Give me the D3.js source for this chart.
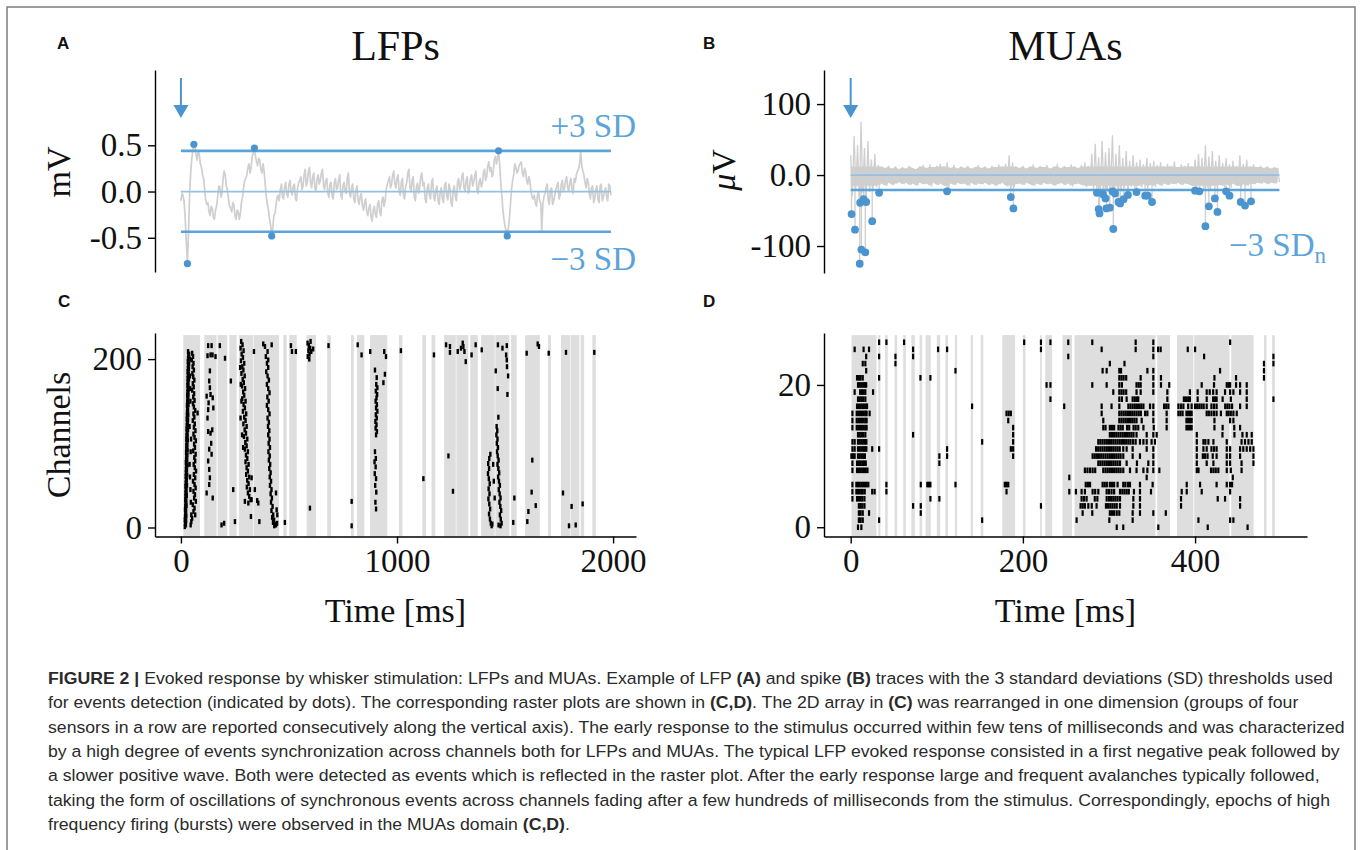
<!DOCTYPE html>
<html><head><meta charset="utf-8">
<script src="https://cdn.jsdelivr.net/npm/d3@7"></script>
<style>body{margin:0;background:#fff}svg{display:block}</style>
</head><body>
<svg id="fig" width="1360" height="850"></svg>
<script>
// ---------------- DATA ----------------
// Panel A: LFP trace (mV), sampled every 10 ms from t=0, plus the samples half-way between them
const lfpStep = 10;
const lfpValues = [
-0.10,-0.04,-0.30,-0.78,-0.05,0.35,0.51,0.40,0.44,0.30,
0.18,0.02,-0.14,-0.22,-0.16,-0.28,-0.20,-0.06,0.05,-0.02,
0.22,0.06,-0.08,-0.18,-0.12,-0.26,-0.20,-0.30,-0.12,0.04,
0.14,0.26,0.20,0.38,0.47,0.32,0.36,0.24,0.30,0.08,
-0.14,-0.30,-0.48,-0.26,-0.15,-0.04,0.02,-0.06,0.05,-0.03,
0.08,0.00,0.06,-0.08,0.04,0.12,0.02,0.18,0.06,0.22,
0.10,0.16,0.04,0.14,0.08,0.20,0.06,0.12,-0.02,0.08,
-0.05,0.10,0.02,0.13,-0.04,0.06,0.00,0.15,-0.02,0.05,
-0.08,0.02,-0.10,-0.05,-0.16,-0.12,-0.22,-0.18,-0.28,-0.20,
-0.25,-0.14,-0.22,-0.10,-0.16,0.02,0.12,0.04,0.18,0.08,
0.14,0.00,0.10,-0.04,0.06,0.20,0.04,0.12,-0.06,0.05,
-0.02,0.16,0.06,-0.08,0.04,-0.04,0.10,-0.06,0.02,-0.10,
0.00,-0.08,0.06,-0.05,0.08,-0.12,0.02,-0.06,0.10,0.02,
0.16,0.04,0.12,-0.02,0.14,0.06,0.18,0.02,0.10,0.05,
0.20,0.12,0.28,0.22,0.16,0.34,0.30,0.44,0.10,-0.20,
-0.38,-0.48,-0.30,0.02,0.18,0.26,0.22,0.30,0.20,0.25,
0.12,0.16,0.00,-0.08,-0.12,-0.04,-0.10,-0.42,-0.06,0.04,
-0.10,0.02,-0.14,-0.04,0.06,-0.08,0.08,0.00,0.12,0.04,
0.10,0.02,0.14,0.18,0.24,0.43,0.22,0.10,0.14,-0.02,
0.04,-0.12,0.02,-0.08,0.06,-0.10,0.00,-0.06,0.08,-0.04
];
const lfpMidValues = [
-0.02,-0.12,-0.55,-0.45,0.20,0.44,0.47,0.34,0.40,0.26,
0.14,-0.10,-0.12,-0.26,-0.18,-0.30,-0.16,0.06,-0.06,0.14,
0.18,0.02,-0.16,-0.22,-0.14,-0.30,-0.22,-0.24,-0.06,0.12,
0.18,0.30,0.26,0.42,0.38,0.28,0.34,0.20,0.22,-0.06,
-0.20,-0.36,-0.40,-0.24,-0.06,-0.10,0.08,-0.08,0.10,-0.06,
0.12,-0.04,0.08,-0.10,0.10,0.16,0.06,0.24,0.10,0.26,
0.04,0.20,0.00,0.18,0.12,0.24,0.02,0.14,-0.06,0.10,
-0.08,0.14,0.04,0.18,-0.08,0.10,-0.02,0.20,-0.06,0.08,
-0.12,0.06,-0.14,-0.02,-0.20,-0.08,-0.26,-0.14,-0.32,-0.16,
-0.28,-0.10,-0.26,-0.06,-0.10,0.08,0.16,0.08,0.22,0.04,
0.18,-0.04,0.14,-0.08,0.10,0.24,0.00,0.16,-0.10,0.09,
0.04,0.20,0.10,-0.12,0.08,-0.08,0.14,-0.10,0.06,-0.14,
0.04,-0.12,0.10,-0.09,0.04,-0.16,0.06,-0.10,0.14,0.06,
0.20,0.00,0.16,0.02,0.18,0.10,0.22,-0.02,0.14,0.09,
0.24,0.16,0.32,0.26,0.20,0.38,0.36,0.30,-0.04,-0.30,
-0.42,-0.40,-0.14,0.12,0.30,0.20,0.28,0.32,0.16,0.22,
0.08,0.12,-0.06,-0.04,-0.16,0.00,-0.12,-0.14,-0.02,0.08,
-0.14,0.04,-0.10,0.02,0.10,-0.04,0.12,0.04,0.16,0.00,
0.14,-0.02,0.10,0.22,0.30,0.28,0.18,0.04,0.10,-0.08,
0.06,-0.08,0.06,-0.12,0.08,-0.06,0.04,-0.10,0.06
];
const lfpThresholds = [0.44, -0.435];
const lfpEvents = [[30,-0.78],[60,0.51],[340,0.47],[420,-0.48],[1470,0.44],[1510,-0.48]];
const lfpTicks = [-0.5, 0, 0.5];
const lfpTickLabels = ["-0.5", "0.0", "0.5"];

// Panel B: MUA trace envelope (µV) in 4 ms bins from t=0
const muaBin = 4;
const muaUpper = [
28,55,42,75,38,48,22,30,14,12,10,13,9,12,8,11,9,13,10,8,
12,14,10,15,11,13,16,12,18,10,14,9,12,10,13,9,11,14,10,12,
9,13,11,15,12,16,28,18,12,10,13,9,12,15,10,13,11,14,9,12,
16,10,13,11,15,12,10,14,18,13,30,44,25,48,32,38,56,30,42,24,
34,20,28,18,22,15,24,17,20,14,18,12,16,13,19,11,15,13,17,12,
22,30,24,42,26,34,20,28,17,24,15,20,13,28,16,22,12,15,11,13,
10,12,9,11,10
];
const muaLower = [
-30,-22,-45,-25,-40,-24,-20,-17,-14,-12,-15,-11,-14,-12,-10,-13,-11,-14,-12,-15,
-11,-13,-12,-16,-11,-14,-12,-15,-18,-12,-14,-11,-13,-12,-15,-11,-14,-12,-13,-11,
-14,-12,-15,-13,-11,-16,-20,-17,-13,-12,-14,-11,-13,-15,-12,-14,-11,-13,-12,-15,
-13,-11,-14,-12,-16,-13,-12,-14,-17,-15,-22,-18,-25,-20,-24,-19,-26,-21,-23,-18,
-20,-16,-19,-15,-17,-13,-16,-14,-17,-12,-15,-12,-14,-12,-13,-11,-14,-12,-13,-15,
-20,-16,-22,-18,-21,-15,-19,-14,-17,-13,-18,-12,-15,-17,-13,-15,-12,-13,-11,-12,
-10,-13,-11,-12,-10
];
const muaNoiseBand = [-15, 12];
const muaThreshold = -21;
const muaEvents = [[1,-55],[5,-77],[10.5,-125],[12.4,-105],[17,-109],[11,-39],[15,-34],[18,-38],[25,-65],[33,-25],
[112,-23],[186,-31],[189,-47],[286,-25],[288,-48],[289,-54],[293,-27],[296,-33],[297,-47],[301,-46],
[304,-23],[305,-76],[307,-26],[311,-38],[313,-40],[317,-34],[322,-28],[332,-24],[342,-29],[345,-29],
[350,-38],[400,-22],[405,-23],[412,-72],[416,-44],[423,-33],[426,-52],[436,-23],[440,-29],[453,-38],
[458,-43],[465,-37]];
const muaTicks = [-100, 0, 100];
const muaTickLabels = ["-100", "0.0", "100"];

// Panel C: LFP raster, avalanche time bins (ms) and events [t ms, channel]
const lfpBands = [[11,88],[108,165],[170,214],[224,258],[268,333],[336,454],[474,489],[501,536],[582,625],[677,694],
[787,800],[815,849],[875,955],[1009,1025],[1117,1134],[1160,1177],[1218,1272],[1275,1330],[1339,1374],[1389,1452],
[1455,1520],[1528,1554],[1593,1661],[1699,1713],[1759,1800],[1803,1844],[1850,1866],[1904,1920]];
const lfpRaster = [
[18,1],[19,5],[18,9],[19,13],[20,17],[19,21],[20,25],[21,29],[20,33],[21,37],[21,41],[22,45],[21,49],[22,53],[23,57],[22,61],[23,65],[23,69],[24,73],[23,77],[24,81],[25,85],[24,89],[25,93],[25,97],[26,101],[25,105],[26,109],[27,113],[26,117],[27,121],[28,125],[27,129],[28,133],[28,137],[29,141],[28,145],[29,149],[30,153],[29,157],[30,161],[31,165],[30,169],[31,173],[31,177],[32,181],[31,185],[32,189],[33,193],[32,197],[33,201],[34,205],[33,209],
[23,3],[24,8],[25,14],[24,20],[26,26],[25,32],[27,38],[26,44],[28,50],[27,56],[29,62],[28,68],[30,74],[29,80],[30,86],[31,92],[30,98],[32,104],[31,110],[33,116],[32,122],[33,128],[34,134],[33,140],[35,146],[34,152],[35,158],[36,164],[35,170],[37,176],[36,182],[37,188],[38,194],[37,200],[38,206],
[52,207],[56,203],[50,199],[58,195],[54,191],[60,187],[53,183],[57,179],[62,175],[55,171],[59,167],[52,163],[61,159],[57,155],[63,151],[56,147],[60,143],[66,139],[58,135],[77,136],[62,131],[55,127],[64,123],[60,119],[67,115],[58,111],[63,107],[69,103],[61,99],[65,95],[57,91],[68,87],[62,83],[66,79],[59,75],[64,71],[70,67],[60,63],[66,59],[56,55],[63,51],[68,47],[58,43],[65,39],[61,35],[69,31],[55,27],[63,23],[58,19],[66,15],[52,11],[48,7],[45,3],
[42,180],[44,150],[40,120],[45,90],[42,60],[46,30],[41,200],[43,165],[47,105],[40,75],[44,45],[48,15],
[126,216],[142,216],[123,204],[137,205],[146,205],[160,203],[134,186],[131,174],[134,166],[119,156],[137,158],[147,154],[128,148],[126,140],[150,142],[123,130],[145,116],[126,114],[137,112],[140,100],[131,93],[142,87],[126,79],[131,69],[134,59],[131,51],[119,41],[147,35],
[180,216],[204,201],[231,174],[242,45],[188,3],[200,5],[250,7],
[279,221],[285,217],[276,213],[290,210],[281,206],[287,202],[278,198],[293,195],[284,191],[289,187],[280,183],[295,180],[286,176],[291,172],[283,168],[297,165],[288,161],[293,157],[284,153],[299,150],[290,146],[296,142],[287,138],[302,135],[293,131],[299,127],[289,123],[304,120],[295,116],[301,112],[292,108],[307,105],[298,101],[304,97],[296,93],[310,90],[301,86],[307,82],[299,78],[313,75],[304,71],[310,67],[302,63],[316,60],[307,56],[313,52],[305,48],[319,45],[310,41],[316,37],[322,33],[312,29],
[274,190],[277,170],[280,150],[276,130],[283,110],[288,95],
[296,31],[327,33],[353,32],[363,7],[324,13],[338,209],[358,29],[342,45],[327,59],
[381,218],[389,215],[401,209],[420,217],[393,203],[404,199],
[398,195],[404,190],[395,185],[401,180],[407,175],[398,170],[404,165],[410,160],[400,155],[406,150],[398,145],[404,140],[410,135],[401,130],[407,125],[403,120],[409,115],[404,110],[410,105],[406,100],[412,95],[405,90],[411,85],[407,80],[413,75],[409,70],[415,65],[411,60],[417,55],[412,50],[419,45],[415,40],[421,35],[417,30],[424,25],[419,20],[427,15],[422,12],[431,9],[426,6],[436,4],[440,3],[445,5],[432,2],
[440,41],[443,21],[446,15],[481,6],
[586,219],[592,216],[598,213],[590,210],[595,206],[603,209],[587,203],[612,212],[600,221],[594,200],
[509,216],[514,209],[532,209],[683,216],[818,217],[836,205],[876,209],[941,209],[949,203],[597,23],[790,31],[790,2],[1018,210],
[898,187],[906,178],[944,182],[937,172],[904,170],[909,166],[902,162],[908,158],[905,154],[901,150],[907,146],[903,142],[909,138],[902,134],[906,130],[900,126],[905,122],[901,118],[907,114],[903,110],[898,90],[902,82],[896,78],[901,72],[897,64],[903,58],[899,50],[904,42],[900,30],[903,22],
[1122,58],[1171,205],[1238,85],[1259,43],
[1227,217],[1245,215],[1245,208],[1281,209],[1296,213],[1304,219],[1307,215],[1312,209],[1318,197],[1345,205],[1364,217],[1392,211],
[1467,217],[1488,213],[1508,216],[1505,205],[1508,199],[1509,191],[1457,186],[1514,180],[1466,165],[1511,158],[1469,131],
[1432,87],[1427,82],[1422,76],[1426,70],[1421,64],[1425,58],[1429,52],[1424,46],[1428,40],[1423,34],[1427,28],[1431,22],[1426,16],[1430,10],[1434,5],[1438,2],[1441,4],
[1461,120],[1464,115],[1460,110],[1465,105],[1462,100],[1467,95],[1463,90],[1466,85],[1470,80],[1465,75],[1469,70],[1473,65],[1468,60],[1472,55],[1476,50],[1471,45],[1475,40],[1479,35],[1474,30],[1478,25],[1482,20],[1476,15],[1480,10],[1484,5],[1479,2],[1470,3],
[1448,55],[1452,35],[1445,75],
[1538,6],[1543,35],[1603,7],[1608,19],[1626,80],[1623,42],[1642,26],[1600,207],[1651,218],[1657,215],[1702,207],[1768,41],[1782,208],[1808,25],[1796,2],[1827,3],[1859,28],[1913,208]
];
const lfpRasterXTicks = [0, 1000, 2000];
const lfpRasterYTicks = [0, 200];

// Panel D: MUA raster, time bins (ms) and spike times per channel
const muaBands = [[1,30],[32,34.5],[40,43],[51,54],[61,64],[70.5,74.5],[80,83],[87,93],[100,104],[110,113],
[121,123.6],[139.5,142],[151,154],[176,191],[200,203],[220,222],[226,234],[246,257],[260,354],[356,371],
[379,398],[399,440],[442,468],[480,483],[489.5,492.6]];
const muaRaster = [
[26,[33,41.5,62,201.5,221,232,252.7,280.6,331,351.5,440.7]],
[25,[4.6,15,21.3,72.5,101.5,112,221,291.5,331,351.5,357,360,391.5,400]],
[24,[18,33,52,72.5,252.7,351.5,410.5,491]],
[23,[14,17,52,301,318,480,491]],
[22,[18,121.7,292.6,297.3,312,314,344.6,351.5,429,480]],
[21,[7.4,9.5,11.5,14,33,81,92.6,312,314.5,317,320,336.8,351.5,360.4,422.5,447.6,480]],
[20,[8.5,10.5,12.5,14.5,16.5,18,227.5,232,280.6,297.3,312,315,332,334.5,336.8,351.5,360.4,370,407.7,422,436.8,439,440.7,447.6,452.3,460]],
[19,[4.6,11,13,15,17,26,305,312,314.5,317,320,332,336.8,351.5,367.8,394,403,413.5,417,421,425,434.8,440.7,444.5,452.3,460]],
[18,[8.5,10.5,12.5,14.5,17,232,312,315,320.5,327.5,330,332.5,334,367.8,387,389.5,392,394,403,413.5,421,423,425,432,441.5,460,491]],
[17,[7.4,9.5,11.5,13.5,15.5,17.5,19,141,248,291.5,303,312,322.5,325,327.5,330,332.5,335,337.5,340,347.7,351.5,364,366.5,369,380.6,383.5,386.4,392,396,400,402.5,405,407.5,410,413.5,419,422,425,435,437.5,440,443,452.3,460]],
[16,[2,7,9,11,13,15,17,18.5,22,181,183.5,186,291.5,312,314.5,317,319.5,322,324.5,327,329.5,332,334.5,337,342,344.6,351.5,367,380.6,383,385.5,390,392,394,396,413.5,416,419,422,425,430,436.8,439,441.5,444.5,448.4]],
[15,[2,7,9,11,13,15,17,18.5,183,293.4,312,314.5,317,319.5,322,324.5,327,329.5,332,338,351.5,367,390,392,394,396,422.5,440.7,444.5]],
[14,[2,7,9,11,13,15,17,18.5,188.7,293.4,296,301,303.5,306,311,313.5,316,321,323.5,328.5,331,334,340,352,367,390,392,394,396,422.5,432,445.5,452.3]],
[13,[8.5,10.5,12.5,14.5,17,72.5,188.7,301,303.5,306,308.5,311,313.5,316,318.5,321,323.5,326,328.5,332,343.8,351.5,355.4,402,431.8,445.7,455,460,465.8]],
[12,[2,4.6,8.5,10.5,12.5,14.5,16.5,18.2,152.7,188.7,287.6,290,292.5,295,297.5,300,302.5,305,307.5,310,312.5,315,317.5,320,322.5,325,328,331,336,340,343.8,349.5,353.4,402,409.7,412,415.5,421.3,436.8,454,458,462,465.8]],
[11,[2,4.6,8.5,10.5,12.5,14.5,16.5,18.2,25,33,112,186,188.7,285,287.5,290,292.5,295,297.5,300,302.5,305,307.5,310,312.5,316.6,320.5,327.5,343.8,351.5,402,409.7,413.5,419,422,425,436.8,440.7,452.3,456,460,464,467.8]],
[10,[0.8,2.7,4.6,8.5,10.5,12.5,14.5,16.5,103,112,188.7,281,283.5,286,288.5,291,293.5,296,298.5,301,303.5,306,308.5,311,313.5,316.6,327.5,336,351.5,402,409,411.5,414.5,420.5,425,436.8,440.7,452.3,467.8]],
[9,[2,7.4,9.5,11.5,13.5,15.5,17.5,103,287.6,290,292.5,295,297.5,300,302.5,305,307.5,310,312.8,320.5,332.5,345.7,351.5,402,413.5,421.3,436.8,440.7,454,467.8]],
[8,[2,7.4,9.5,11.5,13.5,15.5,17.5,19.5,272,275,278,281,284,293.4,296,298.5,301,303.5,306,308.5,311,313.5,316.6,324.4,332,340,344.6,351.5,358.5,402,404,418.5,421.3,424,427,436.8,441.5,454]],
[7,[253.9,343.8,443.8]],
[6,[2,6.6,8.5,10.5,12.5,14.5,16.5,18.5,20.5,41.5,81.4,89,91,92.6,121.7,179,181,183,273,275.5,278,292.6,295,297.5,301,303.5,306,310,316.6,319,322,324.4,336,350.7,390.3,405.8,425,436.8,440.7,443]],
[5,[2,6.6,8.5,10.5,12.5,14,16.3,25,27.8,41.5,181,253.9,261.6,268.2,272,281,284,287.6,297.3,300,303,306,312.8,315.5,318,320.5,323,329,336,348.8,384.5,390.3,407.7,440.7]],
[4,[2,7.4,9.5,11.5,13.5,16,92.6,103,268.2,271,274,283.5,286.5,297.3,300,302.5,305,307.5,310,312.8,328.3,336,383.7,426.3,434.8,452.3]],
[3,[9.5,11.5,13.5,16,72.5,81.4,221,267,269.5,272,276,280,285.6,296.5,299,301.5,304,306.5,309,312.8,328.3,336,383.7,452.3]],
[2,[9.5,11.5,14,21.3,81.4,269.4,280.6,301,303.5,306,309,312,327.5,336,351.5,366]],
[1,[9.5,11.5,14,33,152.7,262.4,300.4,327.5,403.9,440.7,444.5]],
[0,[8.5,12.4,309,316.6,357.3,414.7,461]]
];
const muaRasterXTicks = [0, 200, 400];
const muaRasterYTicks = [0, 20];

const captionLines = [
"**FIGURE 2 |** Evoked response by whisker stimulation: LFPs and MUAs. Example of LFP **(A)** and spike **(B)** traces with the 3 standard deviations (SD) thresholds used",
"for events detection (indicated by dots). The corresponding raster plots are shown in **(C,D)**. The 2D array in **(C)** was rearranged in one dimension (groups of four",
"sensors in a row are reported consecutively along the vertical axis). The early response to the stimulus occurred within few tens of milliseconds and was characterized",
"by a high degree of events synchronization across channels both for LFPs and MUAs. The typical LFP evoked response consisted in a first negative peak followed by",
"a slower positive wave. Both were detected as events which is reflected in the raster plot. After the early response large and frequent avalanches typically followed,",
"taking the form of oscillations of synchronous events across channels fading after a few hundreds of milliseconds from the stimulus. Correspondingly, epochs of high",
"frequency firing (bursts) were observed in the MUAs domain **(C,D)**."
];

// ---------------- DRAWING ----------------
const SERIF = "'Liberation Serif','DejaVu Serif',serif";
const SANS = "'Liberation Sans','Arial',sans-serif";
const BLUE = "#4a95d0";
const LINEBLUE = "#5aa4da";
const ZEROBLUE = "#93c2e4";
const GRAY = "#cfcfcf";
const BAND = "#dedede";

const svg = d3.select("#fig");
svg.append("rect").attr("x",7).attr("y",7).attr("width",1348).attr("height",870)
  .attr("fill","none").attr("stroke","#7d7d7d").attr("stroke-width",1.5);

function styleAxis(g){
  g.select(".domain").attr("stroke","#000").attr("stroke-width",1.4);
  g.selectAll(".tick line").attr("stroke","#000").attr("stroke-width",1.4);
  g.selectAll(".tick text").attr("font-family",SERIF).attr("font-size",33).attr("fill","#111");
}
function panelLetter(txt,x,y){
  svg.append("text").attr("x",x).attr("y",y).text(txt)
    .attr("font-family",SANS).attr("font-weight","bold").attr("font-size",17).attr("fill","#111");
}
function arrow(x){
  svg.append("line").attr("x1",x).attr("x2",x).attr("y1",78).attr("y2",107)
    .attr("stroke",BLUE).attr("stroke-width",2);
  svg.append("path").attr("d",`M${x-7.5},105 L${x+7.5},105 L${x},118 Z`).attr("fill",BLUE);
}

// scales
const xLeft = d3.scaleLinear().domain([-120,2106]).range([155,636]);
const xRight = d3.scaleLinear().domain([-31,530]).range([824,1307]);
const yA = d3.scaleLinear().domain([-0.87,1.314]).range([272,70]);
const yB = d3.scaleLinear().domain([-138,148]).range([273,70]);
const yC = d3.scaleLinear().domain([-10.7,231]).range([536.5,333]);
const yD = d3.scaleLinear().domain([-1.3,27.3]).range([536.5,333]);

// ---- Panel A ----
panelLetter("A",57,49);
svg.append("text").attr("x",(xLeft.range()[0]+xLeft.range()[1])/2).attr("y",60).attr("text-anchor","middle")
  .attr("font-family",SERIF).attr("font-size",42).attr("fill","#111").text("LFPs");
const lfpPts = [];
lfpValues.forEach((v,i)=>{
  lfpPts.push([i*lfpStep, v]);
  if(i < lfpMidValues.length) lfpPts.push([i*lfpStep + lfpStep/2, lfpMidValues[i]]);
});
const lfpEnd = (lfpValues.length-1)*lfpStep;
svg.append("path").datum(lfpPts).attr("fill","none").attr("stroke",GRAY).attr("stroke-width",1.7)
  .attr("stroke-linejoin","round").attr("d", d3.line().x(d=>xLeft(d[0])).y(d=>yA(d[1])));
svg.append("line").attr("x1",xLeft(0)).attr("x2",xLeft(lfpEnd)).attr("y1",yA(0)).attr("y2",yA(0))
  .attr("stroke",ZEROBLUE).attr("stroke-width",1.8);
lfpThresholds.forEach(v=>{
  svg.append("line").attr("x1",xLeft(0)).attr("x2",xLeft(lfpEnd)).attr("y1",yA(v)).attr("y2",yA(v))
    .attr("stroke",LINEBLUE).attr("stroke-width",2.6);
});
svg.selectAll(".lfpdot").data(lfpEvents).enter().append("circle")
  .attr("cx",d=>xLeft(d[0])).attr("cy",d=>yA(d[1])).attr("r",3.6).attr("fill",BLUE);
const axA = svg.append("g").attr("transform","translate(155,0)")
  .call(d3.axisLeft(yA).tickValues(lfpTicks).tickFormat((d,i)=>lfpTickLabels[i]).tickSize(7).tickSizeOuter(0).tickPadding(6));
styleAxis(axA);
svg.append("text").attr("transform","translate(70,172) rotate(-90)").attr("text-anchor","middle")
  .attr("font-family",SERIF).attr("font-size",34).attr("fill","#111").text("mV");
svg.append("text").attr("x",636).attr("y",137).attr("text-anchor","end")
  .attr("font-family",SERIF).attr("font-size",33).attr("fill",LINEBLUE).text("+3 SD");
svg.append("text").attr("x",636).attr("y",270).attr("text-anchor","end")
  .attr("font-family",SERIF).attr("font-size",33).attr("fill",LINEBLUE).text("\u22123 SD");
arrow(xLeft(0));

// ---- Panel B ----
panelLetter("B",703,49);
svg.append("text").attr("x",(xRight.range()[0]+xRight.range()[1])/2).attr("y",60).attr("text-anchor","middle")
  .attr("font-family",SERIF).attr("font-size",42).attr("fill","#111").text("MUAs");
const muaPts = [];
muaUpper.forEach((u,i)=>{ muaPts.push([i*muaBin, u]); muaPts.push([i*muaBin+muaBin/2, muaLower[i]]); });
const muaEnd = muaPts[muaPts.length-1][0];
// dense noise band
svg.append("path").datum(muaUpper.map((u,i)=>[i*muaBin, Math.min(u, muaNoiseBand[1]), Math.max(muaLower[i], muaNoiseBand[0])]))
  .attr("fill",GRAY).attr("stroke","none")
  .attr("d", d3.area().x(d=>xRight(d[0])).y1(d=>yB(d[1])).y0(d=>yB(d[2])));
svg.append("path").datum(muaPts).attr("fill","none").attr("stroke",GRAY).attr("stroke-width",1.3)
  .attr("d", d3.line().x(d=>xRight(d[0])).y(d=>yB(d[1])));
svg.selectAll(".stem").data(muaEvents).enter().append("line")
  .attr("x1",d=>xRight(d[0])).attr("x2",d=>xRight(d[0])).attr("y1",yB(0)).attr("y2",d=>yB(d[1]))
  .attr("stroke",GRAY).attr("stroke-width",1.4);
svg.append("line").attr("x1",xRight(0)).attr("x2",xRight(muaEnd)).attr("y1",yB(0)).attr("y2",yB(0))
  .attr("stroke",ZEROBLUE).attr("stroke-width",1.8);
svg.append("line").attr("x1",xRight(0)).attr("x2",xRight(muaEnd)).attr("y1",yB(muaThreshold)).attr("y2",yB(muaThreshold))
  .attr("stroke",LINEBLUE).attr("stroke-width",2.4);
svg.selectAll(".muadot").data(muaEvents).enter().append("circle")
  .attr("cx",d=>xRight(d[0])).attr("cy",d=>yB(d[1])).attr("r",3.9).attr("fill",BLUE);
const axB = svg.append("g").attr("transform","translate(824,0)")
  .call(d3.axisLeft(yB).tickValues(muaTicks).tickFormat((d,i)=>muaTickLabels[i]).tickSize(7).tickSizeOuter(0).tickPadding(6));
styleAxis(axB);
const muLab = svg.append("text").attr("transform","translate(735,170) rotate(-90)").attr("text-anchor","middle")
  .attr("font-family",SERIF).attr("font-size",34).attr("fill","#111");
muLab.append("tspan").attr("font-style","italic").text("\u03BC");
muLab.append("tspan").text("V");
const sdn = svg.append("text").attr("x",1326).attr("y",256).attr("text-anchor","end")
  .attr("font-family",SERIF).attr("font-size",33).attr("fill",LINEBLUE);
sdn.append("tspan").text("\u22123 SD");
sdn.append("tspan").attr("font-size",23).attr("dy",7).text("n");
arrow(xRight(0));

// ---- Panel C ----
panelLetter("C",58,307);
svg.selectAll(".bandC").data(lfpBands).enter().append("rect")
  .attr("x",d=>xLeft(d[0])).attr("width",d=>xLeft(d[1])-xLeft(d[0]))
  .attr("y",yC(228.5)).attr("height",yC(-10.7)-yC(228.5)).attr("fill",BAND);
svg.selectAll(".evC").data(lfpRaster).enter().append("rect")
  .attr("x",d=>xLeft(d[0])-1.2).attr("y",d=>yC(d[1])-2.5).attr("width",2.4).attr("height",5).attr("fill","#000");
const axCx = svg.append("g").attr("transform",`translate(0,${yC.range()[0]})`)
  .call(d3.axisBottom(xLeft).tickValues(lfpRasterXTicks).tickFormat(d3.format("d")).tickSize(7).tickSizeOuter(0).tickPadding(5));
styleAxis(axCx);
const axCy = svg.append("g").attr("transform","translate(155,0)")
  .call(d3.axisLeft(yC).tickValues(lfpRasterYTicks).tickFormat(d3.format("d")).tickSize(7).tickSizeOuter(0).tickPadding(6));
styleAxis(axCy);
svg.append("text").attr("transform","translate(70,435) rotate(-90)").attr("text-anchor","middle")
  .attr("font-family",SERIF).attr("font-size",34).attr("fill","#111").text("Channels");
svg.append("text").attr("x",(xLeft.range()[0]+xLeft.range()[1])/2).attr("y",622).attr("text-anchor","middle")
  .attr("font-family",SERIF).attr("font-size",34).attr("fill","#111").text("Time [ms]");

// ---- Panel D ----
panelLetter("D",703,307);
svg.selectAll(".bandD").data(muaBands).enter().append("rect")
  .attr("x",d=>xRight(d[0])).attr("width",d=>xRight(d[1])-xRight(d[0]))
  .attr("y",yD(27.0)).attr("height",yD(-1.3)-yD(27.0)).attr("fill",BAND);
const dEvents = [];
muaRaster.forEach(r=>r[1].forEach(t=>dEvents.push([t,r[0]])));
svg.selectAll(".evD").data(dEvents).enter().append("rect")
  .attr("x",d=>xRight(d[0])-1.1).attr("y",d=>yD(d[1])-2.8).attr("width",2.2).attr("height",5.6).attr("fill","#000");
const axDx = svg.append("g").attr("transform",`translate(0,${yD.range()[0]})`)
  .call(d3.axisBottom(xRight).tickValues(muaRasterXTicks).tickFormat(d3.format("d")).tickSize(7).tickSizeOuter(0).tickPadding(5));
styleAxis(axDx);
const axDy = svg.append("g").attr("transform","translate(824,0)")
  .call(d3.axisLeft(yD).tickValues(muaRasterYTicks).tickFormat(d3.format("d")).tickSize(7).tickSizeOuter(0).tickPadding(6));
styleAxis(axDy);
svg.append("text").attr("x",(xRight.range()[0]+xRight.range()[1])/2).attr("y",622).attr("text-anchor","middle")
  .attr("font-family",SERIF).attr("font-size",34).attr("fill","#111").text("Time [ms]");

// ---- Caption ----
const capG = svg.append("g");
const capNodes = captionLines.map((line,i)=>{
  const t = capG.append("text").attr("x",0).attr("y",0)
    .attr("font-family","'Liberation Sans Narrow','Liberation Sans',Arial,sans-serif")
    .attr("font-size",16.5).attr("fill","#2a2a2a");
  line.split("**").forEach((seg,j)=>{
    if(seg.length===0) return;
    t.append("tspan").attr("font-weight", j%2===1 ? "bold" : "normal").text(seg);
  });
  return t;
});
const firstLen = capNodes[0].node().getComputedTextLength();
const sx = 1286 / firstLen;
capNodes.forEach((t,i)=>{
  t.attr("transform",`translate(48,${684 + i*24.3}) scale(${sx},1)`);
});
</script>
</body></html>
